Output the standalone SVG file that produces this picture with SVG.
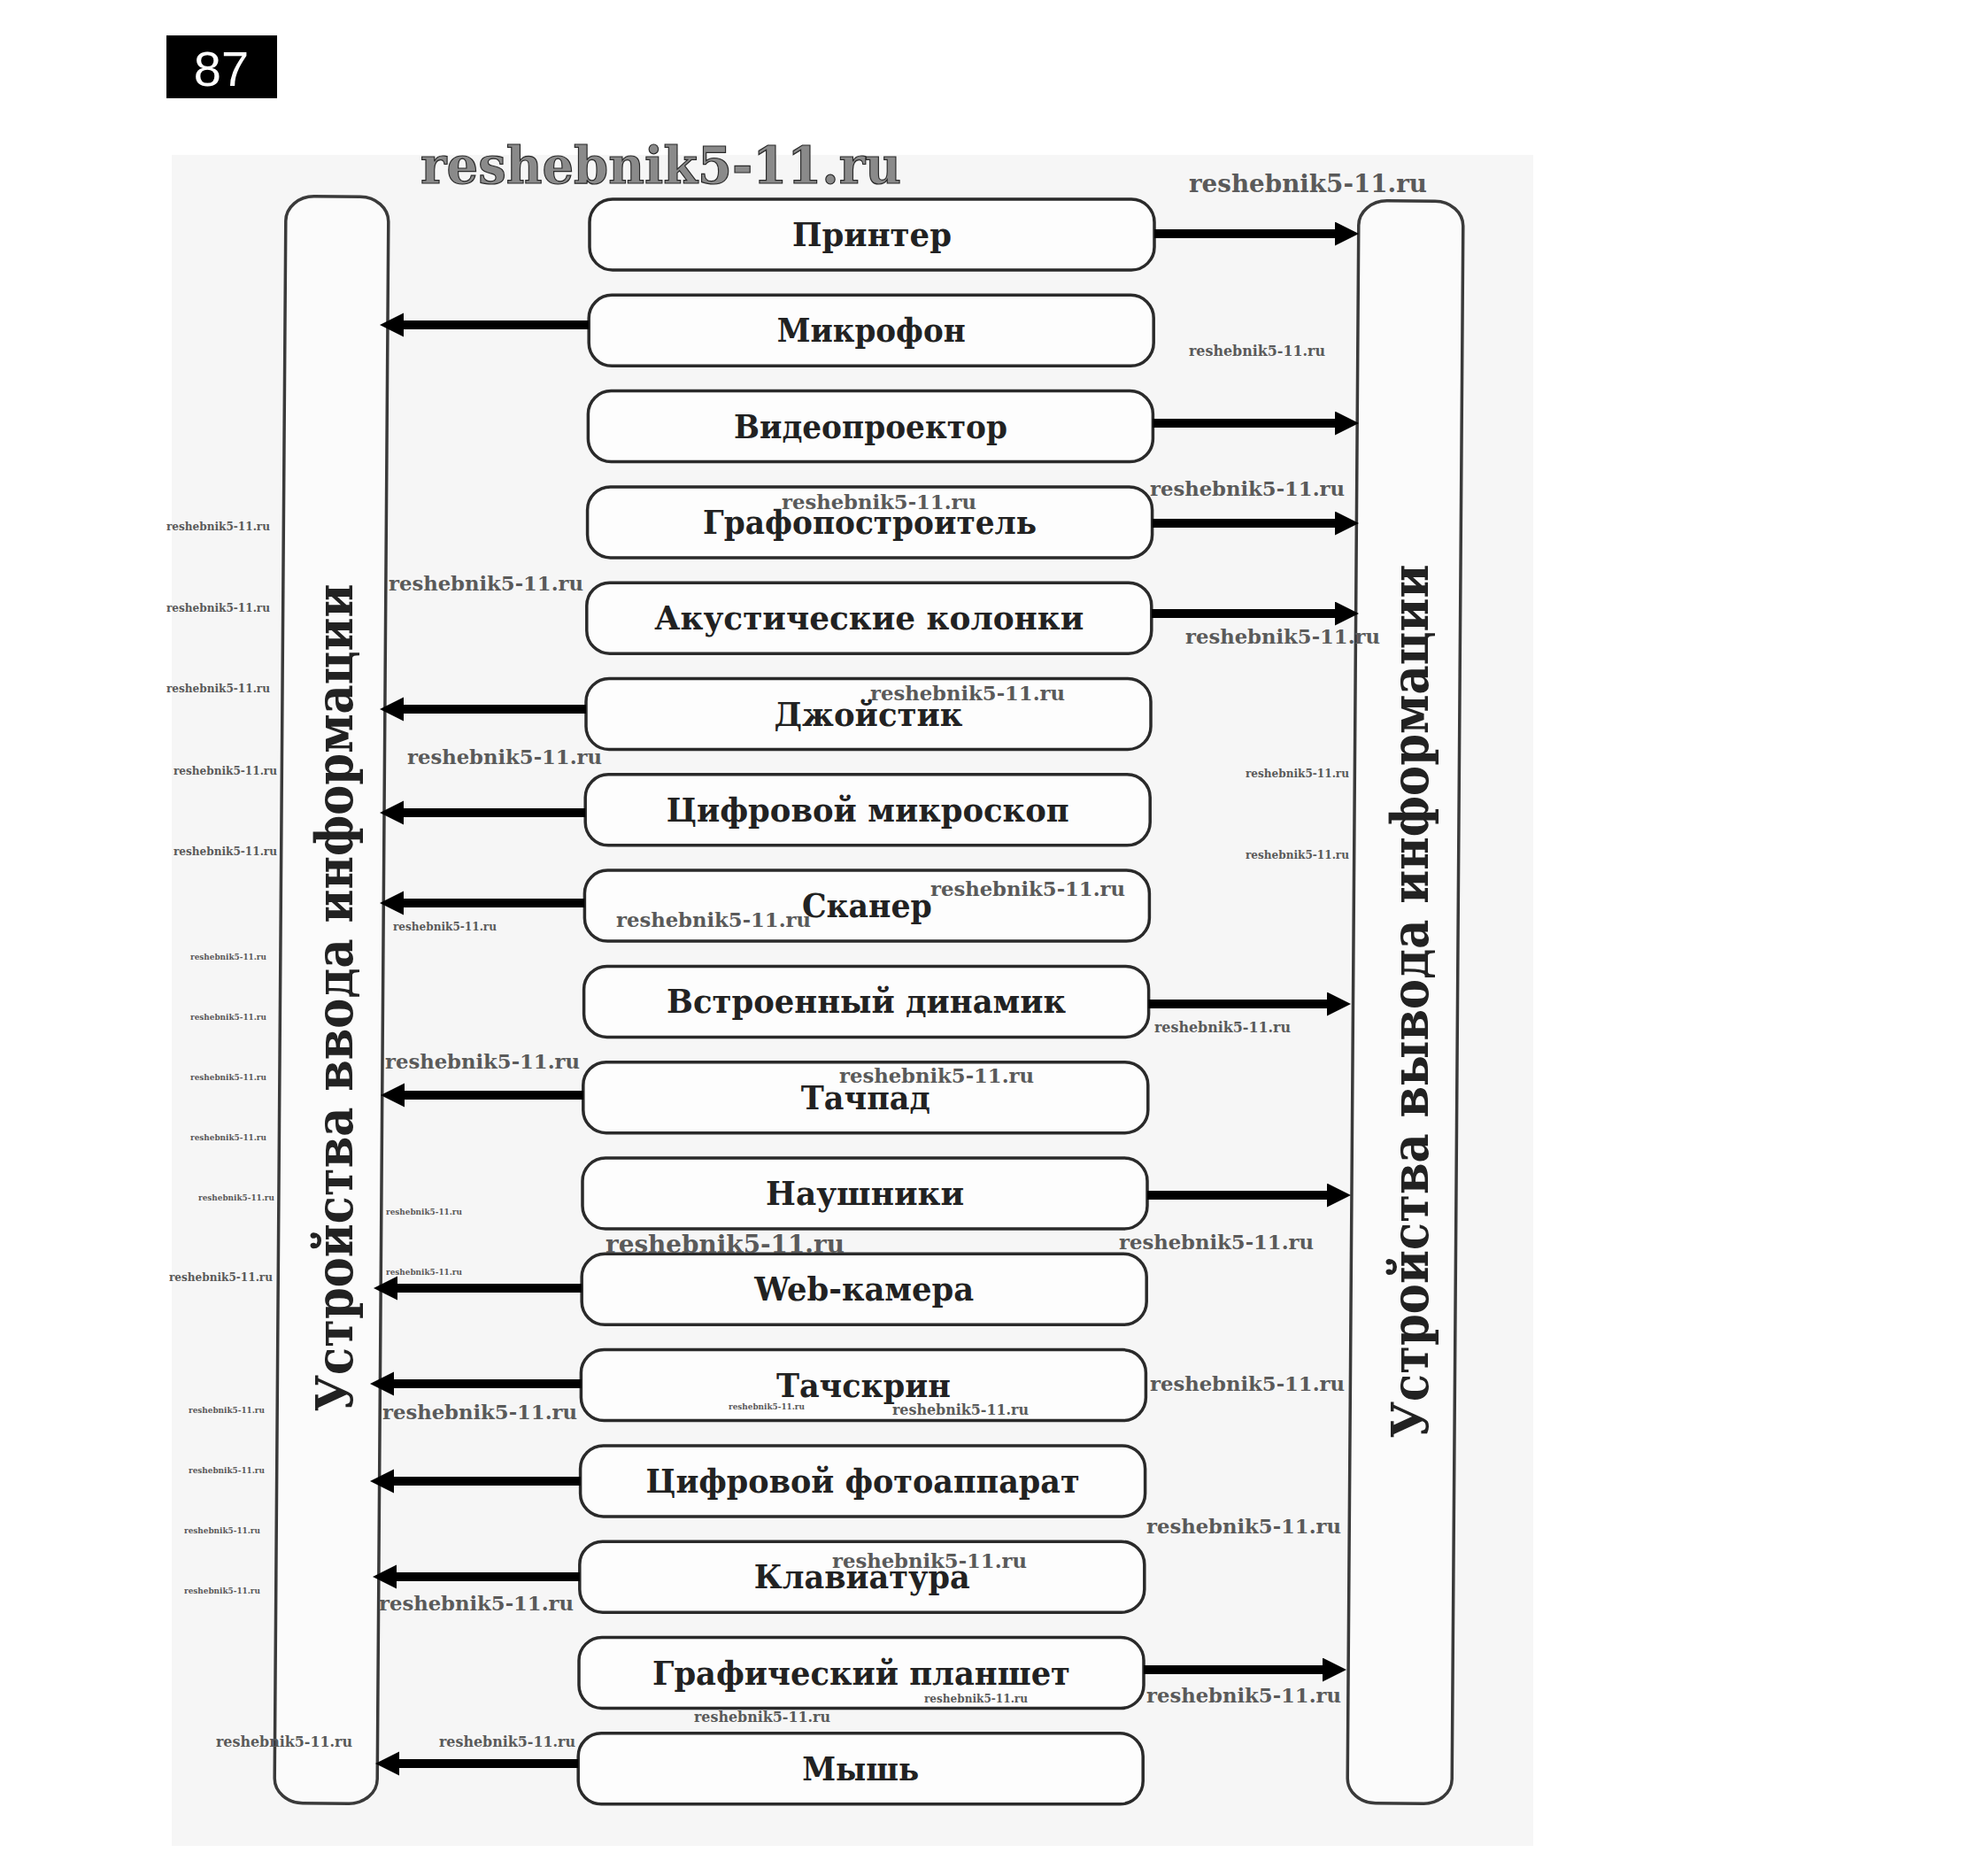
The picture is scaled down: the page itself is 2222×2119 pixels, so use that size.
<svg xmlns="http://www.w3.org/2000/svg" width="2222" height="2119" viewBox="0 0 2222 2119">
<style>
.box{fill:#fdfdfd;stroke:#2a2a2a;stroke-width:3.5}
.tall{fill:#fbfbfb;stroke:#3a3a3a;stroke-width:3.5}
.lbl{font-family:"DejaVu Serif",serif;font-weight:bold;font-size:37px;fill:#222;text-anchor:middle}
.vt{font-family:"DejaVu Serif",serif;font-weight:bold;font-size:58px;fill:#222;text-anchor:middle}
.arr{stroke:#000;stroke-width:10;fill:none;marker-end:url(#ah)}
.wm{font-family:"DejaVu Serif",serif;font-weight:bold;fill:#5a5a5a}
.wL{font-size:58px;fill:#8a8a8a;stroke:#2a2a2a;stroke-width:1.2}
.wM2{font-size:27px}
.wM{font-size:23px}
.wS1{font-size:16px}
.wS2{font-size:12px}
.wS3{font-size:9px}
</style>
<defs>
<marker id="ah" markerUnits="userSpaceOnUse" markerWidth="28" markerHeight="28" refX="1" refY="13.5" orient="auto">
<path d="M0,0 L27,13.5 L0,27 Z" fill="#000"/>
</marker>
</defs>
<rect x="0" y="0" width="2222" height="2119" fill="#ffffff"/>
<rect x="194" y="175" width="1538" height="1910" fill="#f6f6f6"/>

<g id="page-number">
<rect x="188" y="40" width="125" height="71" fill="#000"/>
<text x="250" y="97" font-family="Liberation Sans, sans-serif" font-size="56" fill="#fff" text-anchor="middle">87</text>
</g>

<g id="input-devices">
<rect class="tall" x="316.5" y="222" width="116" height="1815" rx="32" ry="28" transform="rotate(0.41 374.5 1129.5)"/>
<text class="vt" transform="translate(398,1127) rotate(-90)" textLength="935" lengthAdjust="spacingAndGlyphs">Устройства ввода информации</text>
</g>
<g id="output-devices">
<rect class="tall" x="1528.5" y="227" width="118" height="1810" rx="32" ry="28" transform="rotate(0.41 1587.5 1132)"/>
<text class="vt" transform="translate(1613,1131) rotate(-90)" textLength="987" lengthAdjust="spacingAndGlyphs">Устройства вывода информации</text>
</g>

<g id="n-printer"><rect class="box" x="666" y="225" width="638" height="80" rx="26"/><text class="lbl" x="985" y="278" textLength="180" lengthAdjust="spacingAndGlyphs">Принтер</text></g>
<g id="n-microphone"><rect class="box" x="665.2" y="333.3" width="638" height="80" rx="26"/><text class="lbl" x="984.2" y="386.3" textLength="213" lengthAdjust="spacingAndGlyphs">Микрофон</text></g>
<g id="n-projector"><rect class="box" x="664.4" y="441.6" width="638" height="80" rx="26"/><text class="lbl" x="983.4" y="494.6" textLength="309" lengthAdjust="spacingAndGlyphs">Видеопроектор</text></g>
<g id="n-plotter"><rect class="box" x="663.6" y="549.9" width="638" height="80" rx="26"/><text class="lbl" x="982.6" y="602.9" textLength="377" lengthAdjust="spacingAndGlyphs">Графопостроитель</text></g>
<g id="n-speakers"><rect class="box" x="662.8" y="658.2" width="638" height="80" rx="26"/><text class="lbl" x="981.8" y="711.2" textLength="485" lengthAdjust="spacingAndGlyphs">Акустические колонки</text></g>
<g id="n-joystick"><rect class="box" x="662" y="766.5" width="638" height="80" rx="26"/><text class="lbl" x="981" y="819.5" textLength="213" lengthAdjust="spacingAndGlyphs">Джойстик</text></g>
<g id="n-microscope"><rect class="box" x="661.2" y="874.8" width="638" height="80" rx="26"/><text class="lbl" x="980.2" y="927.8" textLength="455" lengthAdjust="spacingAndGlyphs">Цифровой микроскоп</text></g>
<g id="n-scanner"><rect class="box" x="660.4" y="983.1" width="638" height="80" rx="26"/><text class="lbl" x="979.4" y="1036.1" textLength="147" lengthAdjust="spacingAndGlyphs">Сканер</text></g>
<g id="n-builtin-speaker"><rect class="box" x="659.6" y="1091.4" width="638" height="80" rx="26"/><text class="lbl" x="978.6" y="1144.4" textLength="451" lengthAdjust="spacingAndGlyphs">Встроенный динамик</text></g>
<g id="n-touchpad"><rect class="box" x="658.8" y="1199.7" width="638" height="80" rx="26"/><text class="lbl" x="977.8" y="1252.7" textLength="146" lengthAdjust="spacingAndGlyphs">Тачпад</text></g>
<g id="n-headphones"><rect class="box" x="658" y="1308" width="638" height="80" rx="26"/><text class="lbl" x="977" y="1361" textLength="224" lengthAdjust="spacingAndGlyphs">Наушники</text></g>
<g id="n-webcam"><rect class="box" x="657.2" y="1416.3" width="638" height="80" rx="26"/><text class="lbl" x="976.2" y="1469.3" textLength="248" lengthAdjust="spacingAndGlyphs">Web-камера</text></g>
<g id="n-touchscreen"><rect class="box" x="656.4" y="1524.6" width="638" height="80" rx="26"/><text class="lbl" x="975.4" y="1577.6" textLength="197" lengthAdjust="spacingAndGlyphs">Тачскрин</text></g>
<g id="n-camera"><rect class="box" x="655.6" y="1632.9" width="638" height="80" rx="26"/><text class="lbl" x="974.6" y="1685.9" textLength="490" lengthAdjust="spacingAndGlyphs">Цифровой фотоаппарат</text></g>
<g id="n-keyboard"><rect class="box" x="654.8" y="1741.2" width="638" height="80" rx="26"/><text class="lbl" x="973.8" y="1794.2" textLength="244" lengthAdjust="spacingAndGlyphs">Клавиатура</text></g>
<g id="n-tablet"><rect class="box" x="654" y="1849.5" width="638" height="80" rx="26"/><text class="lbl" x="973" y="1902.5" textLength="472" lengthAdjust="spacingAndGlyphs">Графический планшет</text></g>
<g id="n-mouse"><rect class="box" x="653.2" y="1957.8" width="638" height="80" rx="26"/><text class="lbl" x="972.2" y="2010.8" textLength="132" lengthAdjust="spacingAndGlyphs">Мышь</text></g>

<g id="connectors">
<line class="arr" x1="1304" y1="264" x2="1509" y2="264"/>
<line class="arr" x1="1302.4" y1="478" x2="1509" y2="478"/>
<line class="arr" x1="1301.6" y1="591" x2="1509" y2="591"/>
<line class="arr" x1="1300.8" y1="693" x2="1509" y2="693"/>
<line class="arr" x1="1297.6" y1="1134" x2="1500" y2="1134"/>
<line class="arr" x1="1296" y1="1350" x2="1500" y2="1350"/>
<line class="arr" x1="1292" y1="1886" x2="1495" y2="1886"/>
<line class="arr" x1="665.2" y1="367" x2="455" y2="367"/>
<line class="arr" x1="662" y1="801" x2="455" y2="801"/>
<line class="arr" x1="661.2" y1="918" x2="455" y2="918"/>
<line class="arr" x1="660.4" y1="1020" x2="455" y2="1020"/>
<line class="arr" x1="658.8" y1="1237" x2="456" y2="1237"/>
<line class="arr" x1="657.2" y1="1455" x2="448" y2="1455"/>
<line class="arr" x1="656.4" y1="1563" x2="444" y2="1563"/>
<line class="arr" x1="655.6" y1="1673" x2="444" y2="1673"/>
<line class="arr" x1="654.8" y1="1781" x2="447" y2="1781"/>
<line class="arr" x1="653.2" y1="1992" x2="450" y2="1992"/>
</g>

<g id="watermarks">
<text class="wm wL" x="475" y="207" textLength="543" lengthAdjust="spacingAndGlyphs">reshebnik5-11.ru</text>
<text class="wm wM2" x="1343" y="217" textLength="269" lengthAdjust="spacingAndGlyphs">reshebnik5-11.ru</text>
<text class="wm wS1" x="1343" y="402" textLength="154" lengthAdjust="spacingAndGlyphs">reshebnik5-11.ru</text>
<text class="wm wM" x="883" y="575" textLength="220" lengthAdjust="spacingAndGlyphs">reshebnik5-11.ru</text>
<text class="wm wM" x="1299" y="560" textLength="220" lengthAdjust="spacingAndGlyphs">reshebnik5-11.ru</text>
<text class="wm wS2" x="188" y="599" textLength="117" lengthAdjust="spacingAndGlyphs">reshebnik5-11.ru</text>
<text class="wm wS2" x="188" y="691" textLength="117" lengthAdjust="spacingAndGlyphs">reshebnik5-11.ru</text>
<text class="wm wS2" x="188" y="782" textLength="117" lengthAdjust="spacingAndGlyphs">reshebnik5-11.ru</text>
<text class="wm wS2" x="196" y="875" textLength="117" lengthAdjust="spacingAndGlyphs">reshebnik5-11.ru</text>
<text class="wm wS2" x="196" y="966" textLength="117" lengthAdjust="spacingAndGlyphs">reshebnik5-11.ru</text>
<text class="wm wM" x="439" y="667" textLength="220" lengthAdjust="spacingAndGlyphs">reshebnik5-11.ru</text>
<text class="wm wM" x="1339" y="727" textLength="220" lengthAdjust="spacingAndGlyphs">reshebnik5-11.ru</text>
<text class="wm wM" x="983" y="791" textLength="220" lengthAdjust="spacingAndGlyphs">reshebnik5-11.ru</text>
<text class="wm wM" x="460" y="863" textLength="220" lengthAdjust="spacingAndGlyphs">reshebnik5-11.ru</text>
<text class="wm wS2" x="1407" y="878" textLength="117" lengthAdjust="spacingAndGlyphs">reshebnik5-11.ru</text>
<text class="wm wS2" x="1407" y="970" textLength="117" lengthAdjust="spacingAndGlyphs">reshebnik5-11.ru</text>
<text class="wm wM" x="1051" y="1012" textLength="220" lengthAdjust="spacingAndGlyphs">reshebnik5-11.ru</text>
<text class="wm wM" x="696" y="1047" textLength="220" lengthAdjust="spacingAndGlyphs">reshebnik5-11.ru</text>
<text class="wm wS2" x="444" y="1051" textLength="117" lengthAdjust="spacingAndGlyphs">reshebnik5-11.ru</text>
<text class="wm wS3" x="215" y="1084" textLength="86" lengthAdjust="spacingAndGlyphs">reshebnik5-11.ru</text>
<text class="wm wS3" x="215" y="1152" textLength="86" lengthAdjust="spacingAndGlyphs">reshebnik5-11.ru</text>
<text class="wm wS3" x="215" y="1220" textLength="86" lengthAdjust="spacingAndGlyphs">reshebnik5-11.ru</text>
<text class="wm wS3" x="215" y="1288" textLength="86" lengthAdjust="spacingAndGlyphs">reshebnik5-11.ru</text>
<text class="wm wS3" x="224" y="1356" textLength="86" lengthAdjust="spacingAndGlyphs">reshebnik5-11.ru</text>
<text class="wm wS1" x="1304" y="1166" textLength="154" lengthAdjust="spacingAndGlyphs">reshebnik5-11.ru</text>
<text class="wm wM" x="435" y="1207" textLength="220" lengthAdjust="spacingAndGlyphs">reshebnik5-11.ru</text>
<text class="wm wM" x="948" y="1223" textLength="220" lengthAdjust="spacingAndGlyphs">reshebnik5-11.ru</text>
<text class="wm wS3" x="436" y="1372" textLength="86" lengthAdjust="spacingAndGlyphs">reshebnik5-11.ru</text>
<text class="wm wS3" x="436" y="1440" textLength="86" lengthAdjust="spacingAndGlyphs">reshebnik5-11.ru</text>
<text class="wm wM2" x="684" y="1415" textLength="270" lengthAdjust="spacingAndGlyphs">reshebnik5-11.ru</text>
<text class="wm wM" x="1264" y="1411" textLength="220" lengthAdjust="spacingAndGlyphs">reshebnik5-11.ru</text>
<text class="wm wS2" x="191" y="1447" textLength="117" lengthAdjust="spacingAndGlyphs">reshebnik5-11.ru</text>
<text class="wm wM" x="1299" y="1571" textLength="220" lengthAdjust="spacingAndGlyphs">reshebnik5-11.ru</text>
<text class="wm wM" x="432" y="1603" textLength="220" lengthAdjust="spacingAndGlyphs">reshebnik5-11.ru</text>
<text class="wm wS3" x="823" y="1592" textLength="86" lengthAdjust="spacingAndGlyphs">reshebnik5-11.ru</text>
<text class="wm wS1" x="1008" y="1598" textLength="154" lengthAdjust="spacingAndGlyphs">reshebnik5-11.ru</text>
<text class="wm wS3" x="213" y="1596" textLength="86" lengthAdjust="spacingAndGlyphs">reshebnik5-11.ru</text>
<text class="wm wS3" x="213" y="1664" textLength="86" lengthAdjust="spacingAndGlyphs">reshebnik5-11.ru</text>
<text class="wm wS3" x="208" y="1732" textLength="86" lengthAdjust="spacingAndGlyphs">reshebnik5-11.ru</text>
<text class="wm wS3" x="208" y="1800" textLength="86" lengthAdjust="spacingAndGlyphs">reshebnik5-11.ru</text>
<text class="wm wM" x="1295" y="1732" textLength="220" lengthAdjust="spacingAndGlyphs">reshebnik5-11.ru</text>
<text class="wm wM" x="940" y="1771" textLength="220" lengthAdjust="spacingAndGlyphs">reshebnik5-11.ru</text>
<text class="wm wM" x="428" y="1819" textLength="220" lengthAdjust="spacingAndGlyphs">reshebnik5-11.ru</text>
<text class="wm wS2" x="1044" y="1923" textLength="117" lengthAdjust="spacingAndGlyphs">reshebnik5-11.ru</text>
<text class="wm wM" x="1295" y="1923" textLength="220" lengthAdjust="spacingAndGlyphs">reshebnik5-11.ru</text>
<text class="wm wS1" x="784" y="1945" textLength="154" lengthAdjust="spacingAndGlyphs">reshebnik5-11.ru</text>
<text class="wm wS1" x="244" y="1973" textLength="154" lengthAdjust="spacingAndGlyphs">reshebnik5-11.ru</text>
<text class="wm wS1" x="496" y="1973" textLength="154" lengthAdjust="spacingAndGlyphs">reshebnik5-11.ru</text>
</g>
</svg>
